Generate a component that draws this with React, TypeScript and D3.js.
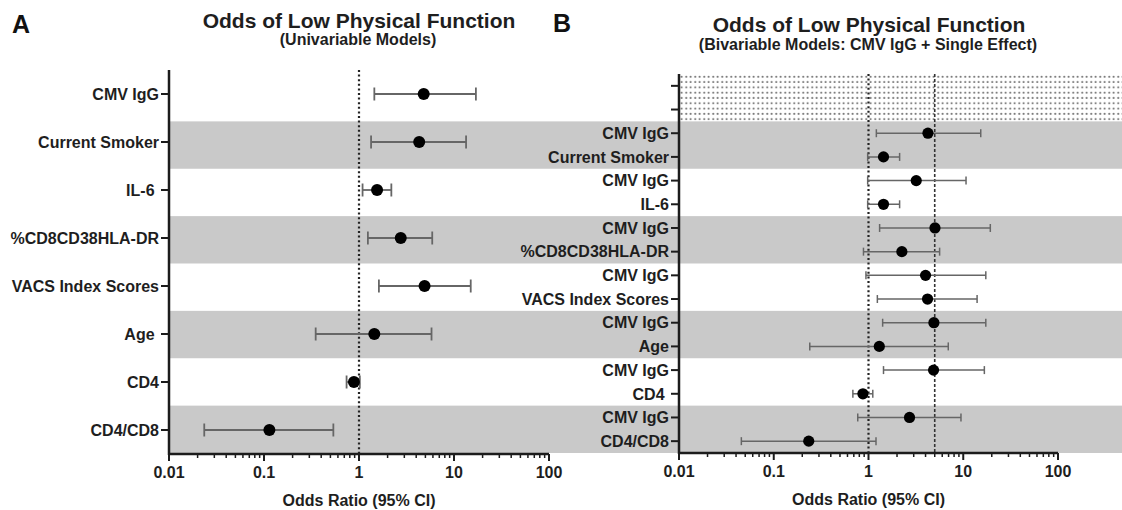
import React from 'react';
import * as d3 from 'd3';

// Panel A: univariable models
const labelsA = ['CMV IgG', 'Current Smoker', 'IL-6 ', '%CD8CD38HLA-DR', 'VACS Index Scores', 'Age ', 'CD4', 'CD4/CD8'];
const orA = [4.8, 4.3, 1.55, 2.75, 4.9, 1.45, 0.885, 0.114];
const lowA = [1.45, 1.34, 1.09, 1.24, 1.62, 0.35, 0.74, 0.0235];
const highA = [17, 13.4, 2.19, 5.9, 15, 5.8, 1.02, 0.537];

// Panel B: bivariable models (CMV IgG + single effect), two empty rows on top
const labelsB = ['', '', 'CMV IgG', 'Current Smoker', 'CMV IgG', 'IL-6', 'CMV IgG', '%CD8CD38HLA-DR', 'CMV IgG', 'VACS Index Scores', 'CMV IgG', 'Age', 'CMV IgG', 'CD4 ', 'CMV IgG', 'CD4/CD8'];
const orB = [NaN, NaN, 4.24, 1.44, 3.19, 1.44, 5.03, 2.25, 4.0, 4.2, 4.9, 1.3, 4.86, 0.873, 2.71, 0.234];
const lowB = [NaN, NaN, 1.21, 0.98, 0.98, 0.98, 1.31, 0.885, 0.94, 1.24, 1.41, 0.24, 1.44, 0.684, 0.77, 0.0455];
const highB = [NaN, NaN, 15.3, 2.13, 10.7, 2.13, 19.3, 5.63, 17.3, 14.0, 17.3, 6.95, 16.7, 1.11, 9.46, 1.2];

const tickValues = [0.01, 0.1, 1, 10, 100];
const tickLabels = ['0.01', '0.1', '1', '10', '100'];
const refDotted = 1;
const refDashedB = 5;

const FONT = '"Liberation Sans", Arial, Helvetica, sans-serif';
const AXIS = '#1c1c1c';
const BAND = '#c9c9c9';
const W = 1122;

const minorTicks = d3.range(-2, 2).flatMap((e) => d3.range(2, 10).map((m) => m * Math.pow(10, e)));

const xA = d3.scaleLog().domain([0.01, 100]).range([169, 549]);
const xB = d3.scaleLog().domain([0.01, 100]).range([679, 1058]);
const yA = d3.scaleBand<number>().domain(d3.range(labelsA.length)).range([70, 454]);
const yB = d3.scaleBand<number>().domain(d3.range(labelsB.length)).range([74, 453]);

const XAxis: React.FC<{ x: d3.ScaleLogarithmic<number, number>; y: number }> = ({ x, y }) => {
  const [x0, x1] = x.range();
  const mid = (x0 + x1) / 2;
  return (
    <g>
      <line x1={x0} x2={x1} y1={y} y2={y} stroke={AXIS} strokeWidth={2.5} />
      {minorTicks.map((v) => (
        <line key={v} x1={x(v)} x2={x(v)} y1={y} y2={y + 4} stroke={AXIS} strokeWidth={1.5} />
      ))}
      {tickValues.map((v, i) => (
        <g key={v}>
          <line x1={x(v)} x2={x(v)} y1={y} y2={y + 7} stroke={AXIS} strokeWidth={2} />
          <text x={x(v)} y={y + 24} textAnchor="middle" fontSize={16} fontWeight="bold" fill="#1e1e1e">
            {tickLabels[i]}
          </text>
        </g>
      ))}
      <text x={mid} y={y + 52} textAnchor="middle" fontSize={16} fontWeight="bold" fill="#1e1e1e">
        Odds Ratio (95% CI)
      </text>
    </g>
  );
};

const YAxis: React.FC<{ y: d3.ScaleBand<number>; x: number; labels: string[] }> = ({ y, x, labels }) => {
  const [y0, y1] = y.range();
  return (
    <g>
      <line x1={x} x2={x} y1={y0} y2={y1 + 1} stroke={AXIS} strokeWidth={2.5} />
      {labels.map((l, i) => {
        const cy = (y(i) ?? 0) + y.bandwidth() / 2;
        return (
          <g key={i}>
            <line x1={x - 8} x2={x} y1={cy} y2={cy} stroke={AXIS} strokeWidth={2} />
            <text x={x - 10} y={cy} dy="0.36em" textAnchor="end" fontSize={16} fontWeight="bold" fill="#1e1e1e" style={{ whiteSpace: 'pre' }}>
              {l}
            </text>
          </g>
        );
      })}
    </g>
  );
};

const Forest: React.FC<{
  x: d3.ScaleLogarithmic<number, number>;
  y: d3.ScaleBand<number>;
  or: number[];
  low: number[];
  high: number[];
  cap: number;
  r: number;
  sw: number;
}> = ({ x, y, or, low, high, cap, r, sw }) => (
  <g>
    {or.map((v, i) => {
      if (!isFinite(v)) return null;
      const cy = (y(i) ?? 0) + y.bandwidth() / 2;
      return (
        <g key={i}>
          <line x1={x(low[i])} x2={x(high[i])} y1={cy} y2={cy} stroke="#666" strokeWidth={sw} />
          <line x1={x(low[i])} x2={x(low[i])} y1={cy - cap / 2} y2={cy + cap / 2} stroke="#666" strokeWidth={sw} />
          <line x1={x(high[i])} x2={x(high[i])} y1={cy - cap / 2} y2={cy + cap / 2} stroke="#666" strokeWidth={sw} />
          <circle cx={x(v)} cy={cy} r={r} fill="#000" />
        </g>
      );
    })}
  </g>
);

export default function App() {
  const pairs = d3.range(labelsB.length / 2);
  const [a0, a1] = yA.range();
  const [b0, b1] = yB.range();

  return (
    <div>
      <style>{`body{margin:0}`}</style>
      <svg width={W} height={510} style={{ display: 'block', fontFamily: FONT }}>
        <defs>
          <pattern id="stipple" width={4.5} height={5.3} patternUnits="userSpaceOnUse">
            <circle cx={2.2} cy={2.6} r={0.95} fill="#666" />
          </pattern>
        </defs>
        <rect width={W} height={510} fill="#fff" />

        {/* shaded rows shared by both panels */}
        {pairs.filter((p) => p % 2 === 1).map((p) => (
          <rect key={p} x={xA.range()[0]} width={W - xA.range()[0]} y={yB(p * 2)} height={yB.bandwidth() * 2} fill={BAND} />
        ))}
        <rect x={xB.range()[0]} width={W - xB.range()[0]} y={yB(0)} height={yB.bandwidth() * 2} fill="url(#stipple)" />

        {/* reference lines */}
        <line x1={xA(refDotted)} x2={xA(refDotted)} y1={a0} y2={a1} stroke="#222" strokeWidth={2.2} strokeDasharray="2 2.6" />
        <line x1={xB(refDotted)} x2={xB(refDotted)} y1={b0} y2={b1} stroke="#222" strokeWidth={2.2} strokeDasharray="2 2.6" />
        <line x1={xB(refDashedB)} x2={xB(refDashedB)} y1={b0} y2={b1} stroke="#333" strokeWidth={1.6} strokeDasharray="3 2" />

        <Forest x={xA} y={yA} or={orA} low={lowA} high={highA} cap={13} r={6} sw={1.8} />
        <Forest x={xB} y={yB} or={orB} low={lowB} high={highB} cap={8} r={5.6} sw={1.5} />

        <YAxis y={yA} x={169} labels={labelsA} />
        <YAxis y={yB} x={679} labels={labelsB} />
        <XAxis x={xA} y={454} />
        <XAxis x={xB} y={453} />

        {/* titles */}
        <text x={12} y={33} fontSize={25} fontWeight="bold" fill="#111">A</text>
        <text x={553} y={32} fontSize={25} fontWeight="bold" fill="#111">B</text>
        <text x={359} y={28} textAnchor="middle" fontSize={21} fontWeight="bold" fill="#1e1e1e">Odds of Low Physical Function</text>
        <text x={358} y={45} textAnchor="middle" fontSize={16} fontWeight="bold" fill="#1e1e1e">(Univariable Models)</text>
        <text x={869} y={31.5} textAnchor="middle" fontSize={21} fontWeight="bold" fill="#1e1e1e">Odds of Low Physical Function</text>
        <text x={868} y={50} textAnchor="middle" fontSize={16} fontWeight="bold" fill="#1e1e1e">(Bivariable Models: CMV IgG + Single Effect)</text>
      </svg>
    </div>
  );
}
